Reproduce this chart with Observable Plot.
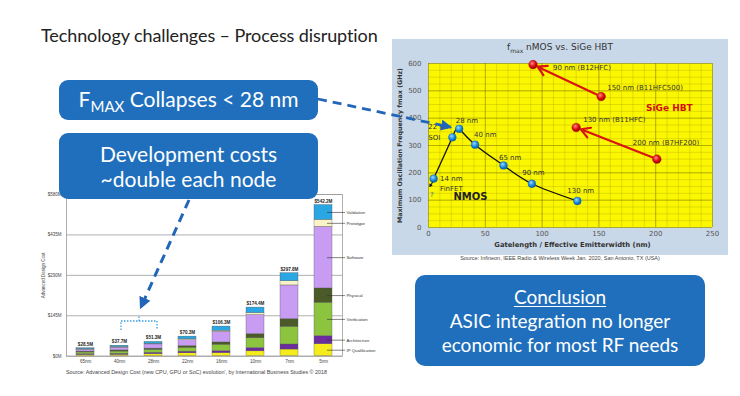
<!DOCTYPE html>
<html><head><meta charset="utf-8">
<script src="https://cdn.jsdelivr.net/npm/d3@7"></script>
<script src="https://cdn.jsdelivr.net/npm/@observablehq/plot@0.6"></script>
<style>
html,body{margin:0;padding:0;background:#fff;}
#slide{position:relative;width:740px;height:396px;overflow:hidden;font-family:Lato,"Open Sans",sans-serif;}
.abs{position:absolute;}
.box{position:absolute;background:#1f6fbd;border-radius:9px;color:#fff;text-align:center;display:flex;flex-direction:column;justify-content:center;align-items:center;}
#overlay{position:absolute;left:0;top:0;pointer-events:none;}
</style></head><body>
<div id="slide">
<div class="abs" id="title" style="left:41px;top:25px;font-size:18px;line-height:20px;color:#222;white-space:nowrap;letter-spacing:-0.1px;">Technology challenges – Process disruption</div>
<div class="abs" style="left:392px;top:39px;width:336px;height:216px;background:#c9d8e8;"></div>
<div class="abs" id="fmaxchart" style="left:392px;top:39px;"></div>
<div class="abs" style="left:392px;top:41px;width:336px;text-align:center;font-family:'DejaVu Sans';font-size:9px;line-height:12px;color:#333;">f<sub style="font-size:6px">max</sub> nMOS vs. SiGe HBT</div>
<div class="abs" style="left:392px;top:255px;width:336px;text-align:center;font-family:'Liberation Sans';font-size:5.5px;line-height:7px;color:#444;">Source: Infineon, IEEE Radio &amp; Wireless Week Jan. 2020, San Antonio, TX (USA)</div>
<div class="abs" id="barchart" style="left:30px;top:188px;"></div>
<div class="abs" style="left:30px;top:369px;width:333px;text-align:center;font-family:'Liberation Sans';font-size:5.4px;line-height:7px;color:#444;white-space:nowrap;">Source: Advanced Design Cost (new CPU, GPU or SoC) evolution', by International Business Studies © 2018</div>
<div class="box" style="left:59px;top:80px;width:259px;height:40px;font-size:21px;line-height:24px;"><div>F<span style="font-size:15px;position:relative;top:5px;">MAX</span> Collapses &lt; 28 nm</div></div>
<div class="box" style="left:59px;top:133px;width:259px;height:66px;font-size:21px;line-height:25px;"><div>Development costs</div><div>~double each node</div></div>
<div class="box" style="left:415px;top:275px;width:290px;height:91px;font-size:19px;line-height:24px;border-radius:10px;"><div style="text-decoration:underline;text-underline-offset:2px;">Conclusion</div><div>ASIC integration no longer</div><div>economic for most RF needs</div></div>
<svg id="overlay" width="740" height="396">
  <defs>
    <marker id="ah" viewBox="0 0 10 10" refX="8" refY="5" markerWidth="4" markerHeight="4" orient="auto"><path d="M0,0 L10,5 L0,10 z" fill="#2266b8"/></marker>
  </defs>
  <path d="M318,99 L450,127" stroke="#2266b8" stroke-width="2.8" stroke-dasharray="9,6" fill="none" marker-end="url(#ah)"/>
  <path d="M189,200 L141,307" stroke="#2266b8" stroke-width="3" stroke-dasharray="9,6" fill="none" marker-end="url(#ah)"/>
  <path d="M121,330 V321 H157 V330 M139,321 V315" stroke="#3aa0e0" stroke-width="1.3" stroke-dasharray="1.5,1.5" fill="none"/>
</svg>
</div>
<script>
// ---------- Development cost chart data ----------
const nodes = ["65nm","40nm","28nm","22nm","16nm","10nm","7nm","5nm"];
const totals = [28.5, 37.7, 51.3, 70.3, 106.3, 174.4, 297.8, 542.2];
const totalLabels = ["$28.5M","$37.7M","$51.3M","$70.3M","$106.3M","$174.4M","$297.8M","$542.2M"];
const costCategories = ["IP Qualification","Architecture","Verification","Physical","Software","Prototype","Validation"];
const ipQualification = [4.5, 5, 7.3, 10.3, 11, 17.4, 24, 43];
const architecture   = [3, 3.7, 5, 6, 7, 12, 18, 29];
const verification   = [6, 8, 10, 14, 23.3, 35, 63, 120];
const physical       = [3, 4, 5, 6, 8, 15, 28, 51];
const software       = [7, 10, 15, 21, 38, 68, 120.8, 221];
const prototype      = [1.5, 2, 2, 3, 4, 7, 15, 25];
const validation     = [3.5, 5, 7, 10, 15, 20, 29, 53.2];
const costTicks = [0, 145, 290, 435, 580];
const costTickLabels = ["$0M","$145M","$290M","$435M","$580M"];

// ---------- fmax chart data ----------
const nmosNodes = ["14 nm","22 nm","28 nm","40 nm","65 nm","90 nm","130 nm"];
const nmosGate  = [4.5, 21, 27, 41, 66, 91, 131];
const nmosFmax  = [179, 330, 361, 303, 227, 160, 97];
const sigeNodes = ["90 nm (B12HFC)","150 nm (B11HFC500)","130 nm (B11HFC)","200 nm (B7HF200)"];
const sigeWidth = [92, 152, 130, 201];
const sigeFmax  = [596, 479, 366, 250];
const sigeMigrations = [[1, 0], [3, 2]]; // from -> to (index)
const finfetArrow = [{x1: 4.5, y1: 172, x2: 1.2, y2: 150}];
const fmaxXTicks = [0, 50, 100, 150, 200, 250];
const fmaxYTicks = [0, 100, 200, 300, 400, 500, 600];

// ---------- bar chart ----------
const costColors = ["#f4ec1c","#6b2d9e","#8dc43f","#4b5a29","#c79cf2","#fbf3c8","#2aa6e2"];
const costSeries = [ipQualification, architecture, verification, physical, software, prototype, validation];
const costRows = costCategories.flatMap((c, i) => nodes.map((n, j) => ({node: n, cat: c, value: costSeries[i][j]})));
const lastRows = costRows.filter(d => d.node === nodes[nodes.length - 1]);

const bars = Plot.plot({
  width: 354, height: 180,
  marginLeft: 36, marginRight: 42, marginTop: 6, marginBottom: 12.3,
  x: {domain: nodes, paddingInner: 0.48, paddingOuter: 0.24},
  y: {domain: [0, 580]},
  color: {domain: costCategories, range: costColors},
  style: {fontFamily: "'Liberation Sans', Arial, sans-serif", background: "transparent", color: "#333"},
  marks: [
    Plot.ruleY(costTicks, {stroke: "#9c9c9c", strokeWidth: 0.8}),
    Plot.frame({stroke: "#9c9c9c", strokeWidth: 0.8}),
    Plot.barY(costRows, {x: "node", y: "value", fill: "cat", stroke: "#555", strokeWidth: 0.35}),
    Plot.text(nodes, {x: d => d, y: (d, i) => totals[i], text: (d, i) => totalLabels[i], dy: -4, fontSize: 4.6, fontWeight: "bold", fill: "#222"}),
    Plot.tickY(lastRows, Plot.stackY({x: "node", y: "value", dx: 13, stroke: "#333", strokeWidth: 0.6})),
    Plot.text(lastRows, Plot.stackY({x: "node", y: "value", text: "cat", dx: 23, textAnchor: "start", fontSize: 4.3, fill: "#333"})),
    Plot.axisX({tickSize: 0, tickPadding: 3.5, fontSize: 4.5, fill: "#444", label: null}),
    Plot.axisY({ticks: costTicks, tickFormat: (d, i) => costTickLabels[i], tickSize: 0, tickPadding: 5, fontSize: 4.5, fill: "#444",
      label: "Advanced Design Cost", labelAnchor: "center", labelArrow: "none", labelOffset: 25})
  ]
});
document.getElementById("barchart").appendChild(bars);

// ---------- fmax chart ----------
const nmos = nmosNodes.map((n, i) => ({node: n, x: nmosGate[i], y: nmosFmax[i]}));
const sige = sigeNodes.map((n, i) => ({node: n, x: sigeWidth[i], y: sigeFmax[i]}));
const migr = sigeMigrations.map(([a, b]) => ({x1: sigeWidth[a], y1: sigeFmax[a], x2: sigeWidth[b], y2: sigeFmax[b]}));

const defs = () => {
  const g = d3.create("svg:defs");
  const b = g.append("radialGradient").attr("id", "gBlue").attr("cx", "40%").attr("cy", "35%").attr("r", "65%");
  b.append("stop").attr("offset", "0%").attr("stop-color", "#9fd8ff");
  b.append("stop").attr("offset", "55%").attr("stop-color", "#1f8ee0");
  b.append("stop").attr("offset", "100%").attr("stop-color", "#0b5fa8");
  const r = g.append("radialGradient").attr("id", "gRed").attr("cx", "40%").attr("cy", "35%").attr("r", "65%");
  r.append("stop").attr("offset", "0%").attr("stop-color", "#ff8a8a");
  r.append("stop").attr("offset", "55%").attr("stop-color", "#e01010");
  r.append("stop").attr("offset", "100%").attr("stop-color", "#a00000");
  return g.node();
};

const nmosOffsets = {"14 nm": [6.5, 0], "22 nm": [-24, -11], "28 nm": [-3.5, -8], "40 nm": [-1, -10], "65 nm": [-4.5, -7.5], "90 nm": [-9.7, -11.3], "130 nm": [-10, -10]};
const sigeOffsets = {"90 nm (B12HFC)": [20, 3], "150 nm (B11HFC500)": [6, -8.8], "130 nm (B11HFC)": [7, -8], "200 nm (B7HF200)": [-24, -16.8]};
const lblStyle = {textAnchor: "start", fontSize: 7, fill: "#333", fontFamily: "'DejaVu Sans', Verdana, sans-serif"};

const fmax = Plot.plot({
  width: 336, height: 216,
  marginLeft: 36, marginRight: 16, marginTop: 24, marginBottom: 28,
  x: {domain: [0, 250]},
  y: {domain: [0, 600]},
  style: {fontFamily: "'DejaVu Sans', Verdana, sans-serif", background: "transparent", color: "#333"},
  marks: [
    defs,
    Plot.frame({fill: "#fbf700", stroke: null}),
    Plot.gridX({ticks: d3.range(0, 251, 10), stroke: "#9a9400", strokeOpacity: 0.45, strokeWidth: 0.6}),
    Plot.gridY({ticks: d3.range(0, 601, 25), stroke: "#9a9400", strokeOpacity: 0.45, strokeWidth: 0.6}),
    Plot.gridX({ticks: fmaxXTicks, stroke: "#6e6a00", strokeOpacity: 0.55, strokeWidth: 0.7}),
    Plot.gridY({ticks: fmaxYTicks, stroke: "#6e6a00", strokeOpacity: 0.55, strokeWidth: 0.7}),
    Plot.axisX({ticks: fmaxXTicks, tickSize: 0, tickPadding: 4, fontSize: 7, fill: "#555", label: null}),
    Plot.axisY({ticks: fmaxYTicks, tickSize: 0, tickPadding: 7, fontSize: 7, fill: "#555", label: null}),
    Plot.text(["Maximum Oscillation Frequency fmax (GHz)"], {frameAnchor: "left", rotate: -90, dx: -29, textAnchor: "middle", fontSize: 6.3, fontWeight: "bold", fill: "#333"}),
    Plot.text(["Gatelength / Effective Emitterwidth (nm)"], {frameAnchor: "bottom", dy: 19, dx: 2, fontSize: 6.8, fontWeight: "bold", fill: "#333"}),
    Plot.line(nmos, {x: "x", y: "y", curve: "natural", stroke: "#111", strokeWidth: 1.3}),
    Plot.arrow(finfetArrow, {x1: "x1", y1: "y1", x2: "x2", y2: "y2", stroke: "#111", strokeWidth: 1.1, headLength: 4}),
    Plot.arrow(migr, {x1: "x1", y1: "y1", x2: "x2", y2: "y2", stroke: "#d81414", strokeWidth: 2.2, headLength: 7, insetStart: 5, insetEnd: 5}),
    Plot.dot(nmos, {x: "x", y: "y", r: 3.9, fill: "url(#gBlue)", stroke: "#0d5ea6", strokeWidth: 0.4}),
    Plot.dot(sige, {x: "x", y: "y", r: 4.3, fill: "url(#gRed)", stroke: "#a00000", strokeWidth: 0.4}),
    ...nmos.map(d => Plot.text([d], {x: "x", y: "y", text: "node", dx: nmosOffsets[d.node][0], dy: nmosOffsets[d.node][1], ...lblStyle})),
    Plot.text(nmos.filter(d => d.node === "14 nm"), {x: "x", y: "y", text: () => "FinFET", dx: 6.5, dy: 10, ...lblStyle}),
    Plot.text(nmos.filter(d => d.node === "14 nm"), {x: "x", y: "y", text: () => "?", dx: -3.5, dy: 16.5, ...lblStyle, fill: "#1f6fbd"}),
    Plot.text(nmos.filter(d => d.node === "22 nm"), {x: "x", y: "y", text: () => "SOI", dx: -24, dy: 0, ...lblStyle}),
    ...sige.map(d => Plot.text([d], {x: "x", y: "y", text: "node", dx: sigeOffsets[d.node][0], dy: sigeOffsets[d.node][1], ...lblStyle})),
    Plot.text(["NMOS"], {frameAnchor: "bottom-left", dx: 25, dy: -27.5, textAnchor: "start", fontSize: 10, fontWeight: "bold", fill: "#222"}),
    Plot.text(["SiGe HBT"], {frameAnchor: "top-right", dx: -66.5, dy: 41, textAnchor: "start", fontSize: 9, fontWeight: "bold", fill: "#d01010"})
  ]
});
document.getElementById("fmaxchart").appendChild(fmax);
</script>
</body></html>
